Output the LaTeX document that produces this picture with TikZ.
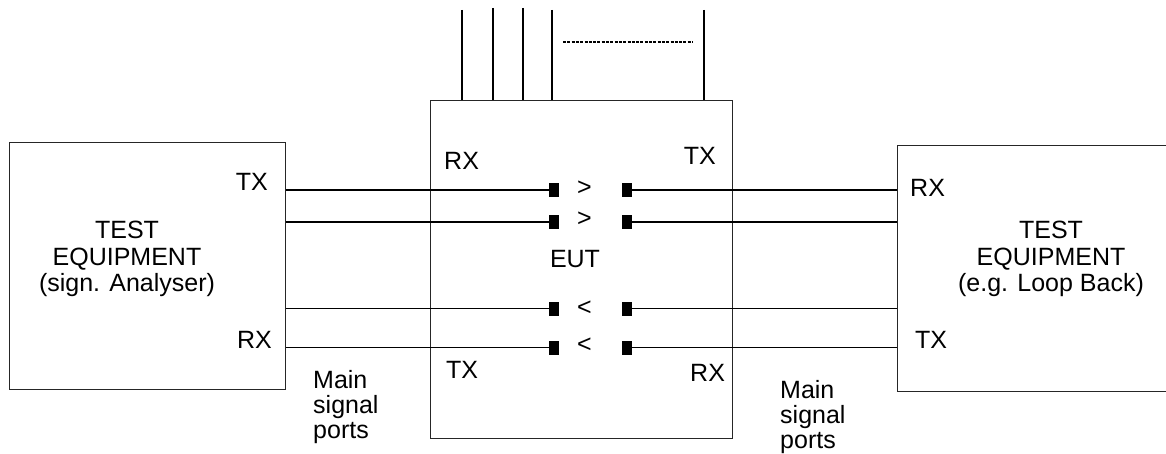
\documentclass[tikz,border=0pt]{standalone}
\usepackage{fontspec}
\setmainfont{Liberation Sans}
\begin{document}
\begin{tikzpicture}[x=1pt,y=-1pt,
  box/.style={draw=black!85,line width=1.3pt,inner sep=0pt,anchor=north west},
  wire/.style={line width=1.9pt},
  lead/.style={line width=1.9pt},
  stub/.style={fill=black,draw=none,minimum width=10pt,minimum height=14pt,inner sep=0pt},
  lbl/.style={inner sep=0pt,font=\fontsize{25}{26.7}\selectfont},
  plbl/.style={inner sep=0pt,font=\fontsize{25}{25}\selectfont,align=left,anchor=base west},
  clbl/.style={inner sep=0pt,font=\fontsize{25}{26.7}\selectfont,align=center,anchor=base}]
\path[use as bounding box,clip] (0,0) rectangle (1166,454);
\fill[white] (0,0) rectangle (1166,454);
% boxes
\node[box,minimum width=276pt,minimum height=247pt] (te1) at (9,142) {};
\node[box,minimum width=302pt,minimum height=338pt] (eut) at (430,100) {};
\node[box,minimum width=275pt,minimum height=246pt] (te2) at (897,145) {};
% stubs
\node[stub] (l1) at (554,190) {};
\node[stub] (l2) at (554,222) {};
\node[stub] (l3) at (554,308.5) {};
\node[stub] (l4) at (554,347.5) {};
\node[stub] (r1) at (627,190) {};
\node[stub] (r2) at (627,222) {};
\node[stub] (r3) at (627,308.5) {};
\node[stub] (r4) at (627,347.5) {};
% wires
\foreach \i in {1,...,4}{
  \draw[wire] (te1.east |- l\i) -- (l\i.west);
  \draw[wire] (r\i.east) -- (te2.west |- r\i);
}
% top leads
\coordinate (t1) at (462,10);
\coordinate (t2) at (493,8);
\coordinate (t3) at (523,8);
\coordinate (t4) at (552,10);
\coordinate (t5) at (704,10);
\foreach \i in {1,...,5}{
  \draw[lead] (t\i) -- (t\i |- eut.north);
}
\coordinate (d1) at (563,42);
\coordinate (d2) at (693,42);
\draw[line width=1.5pt,dash pattern=on 3pt off 1.3pt] (d1) -- (d2);
% labels left box
\node[lbl,anchor=base east] (ltx) at (268,191) {TX};
\node[lbl,anchor=base east] (lrx) at (272,348) {RX};
\node[clbl] (te1t) at (127,291.8) {TEST\\EQUIPMENT\\(sign. Analyser)};
% labels right box
\node[lbl,anchor=base west] (rrx) at (910,197) {RX};
\node[lbl,anchor=base west] (rtx) at (915,348) {TX};
\node[clbl] (te2t) at (1051,291.8) {TEST\\EQUIPMENT\\(e.g. Loop Back)};
% EUT labels
\node[lbl,anchor=base west] (erx) at (444,170) {RX};
\node[lbl,anchor=base east] (etx) at (716,165) {TX};
\node[lbl,anchor=base] (eutt) at (575,267) {EUT};
\node[lbl,anchor=base west] (etx2) at (446,378) {TX};
\node[lbl,anchor=base west] (erx2) at (690,381) {RX};
\node[lbl,anchor=base] (g1) at (584.5,195.5) {>};
\node[lbl,anchor=base] (g2) at (584.5,226.5) {>};
\node[lbl,anchor=base] (g3) at (584.5,315) {<};
\node[lbl,anchor=base] (g4) at (584.5,352) {<};
% main signal ports
\node[plbl] (msp1) at (313,438.3) {Main\\signal\\ports};
\node[plbl] (msp2) at (780,448) {Main\\signal\\ports};
\end{tikzpicture}
\end{document}
